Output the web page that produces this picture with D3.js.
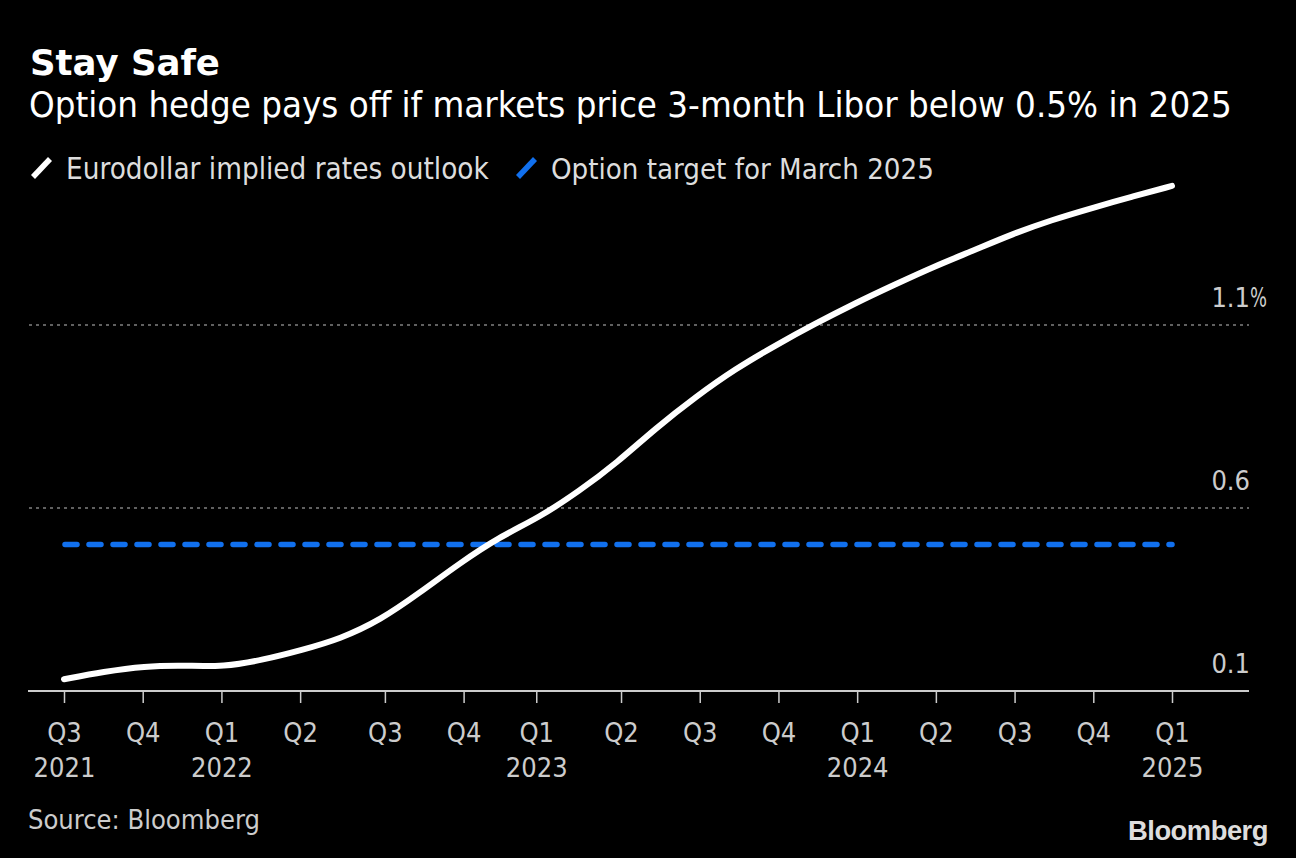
<!DOCTYPE html>
<meta charset="utf-8">
<style>
  body { margin: 0; background: #000; }
  svg { display: block; }
</style>
<script src="https://d3js.org/d3.v7.min.js"></script>
<div id="chart"></div>
<script>

// data
var dates = ["2021-06-30","2021-08-15","2021-10-01","2021-11-15","2022-01-01","2022-02-15",
             "2022-04-01","2022-05-15","2022-07-01","2022-08-15","2022-10-01","2022-11-15",
             "2023-01-01","2023-02-15","2023-04-01","2023-05-15","2023-07-01","2023-08-15",
             "2023-10-01","2023-11-15","2024-01-01","2024-02-15","2024-04-01","2024-05-15",
             "2024-07-01","2024-08-15","2024-10-01","2024-11-15","2025-01-01"];
var rates = [0.132,0.153,0.168,0.170,0.166,0.185,
             0.212,0.242,0.294,0.368,0.450,0.520,
             0.575,0.645,0.725,0.818,0.905,0.980,
             1.045,1.103,1.160,1.210,1.260,1.302,
             1.349,1.387,1.420,1.450,1.480];
var targetRate = 0.5;
var yTicks = [0.1, 0.6, 1.1];
var seriesNames = ["Eurodollar implied rates outlook", "Option target for March 2025"];

// x ticks sit on the weekly points nearest each quarter start
var tickDates = ["2021-06-30","2021-09-29","2021-12-29","2022-03-30","2022-07-06","2022-10-05",
                 "2022-12-28","2023-04-05","2023-07-05","2023-10-04","2024-01-03","2024-04-03",
                 "2024-07-03","2024-10-02","2025-01-01"];
var quarterLabels = ["Q3","Q4","Q1","Q2","Q3","Q4","Q1","Q2","Q3","Q4","Q1","Q2","Q3","Q4","Q1"];
var yearLabels = ["2021","","2022","","","","2023","","","","2024","","","","2025"];

var font = "'DejaVu Sans Condensed', 'DejaVu Sans', sans-serif";
var W = 1296, H = 858;

var svg = d3.select("#chart").append("svg")
  .attr("width", W).attr("height", H)
  .style("background", "#000");

// shrink/grow a text so it spans the width seen in the picture
function fit(t, w) {
  var len = t.node().getComputedTextLength();
  t.attr("font-size", parseFloat(t.attr("font-size")) * w / len);
}

// header
fit(svg.append("text").attr("x", 30).attr("y", 75)
  .attr("font-family", "'DejaVu Sans', sans-serif").attr("font-weight", "bold")
  .attr("font-size", 35).attr("fill", "#fff").text("Stay Safe"), 190);

fit(svg.append("text").attr("x", 29).attr("y", 117)
  .attr("font-family", font).attr("font-size", 33).attr("fill", "#fff")
  .text("Option hedge pays off if markets price 3-month Libor below 0.5% in 2025"), 1203);

// legend
var legendX = [33, 518];
var colors = ["#ffffff", "#1170ee"];
var widths = [423, 383];
seriesNames.forEach(function(name, i) {
  svg.append("line")
    .attr("x1", legendX[i]).attr("y1", 177)
    .attr("x2", legendX[i] + 17).attr("y2", 159)
    .attr("stroke", colors[i]).attr("stroke-width", 5.5);
  fit(svg.append("text").attr("x", legendX[i] + 33).attr("y", 179)
    .attr("font-family", font).attr("font-size", 29).attr("fill", "#ddd")
    .text(name), widths[i]);
});

// scales
var parse = d3.utcParse("%Y-%m-%d");
var data = dates.map(function(d, i) { return {date: parse(d), value: rates[i]}; });

var x = d3.scaleUtc()
  .domain([parse("2021-06-30"), parse("2025-01-01")])
  .range([64, 1172]);
var y = d3.scaleLinear()
  .domain([0.1, 1.1])
  .range([691, 325]);

// grid + y labels
yTicks.forEach(function(v, i) {
  if (i > 0) {
    svg.append("line")
      .attr("x1", 29).attr("x2", 1249)
      .attr("y1", y(v)).attr("y2", y(v))
      .attr("stroke", "#808080").attr("stroke-width", 1.5)
      .attr("stroke-dasharray", "3,4");
  }
  svg.append("text")
    .attr("x", 1250).attr("y", y(v) - 18)
    .attr("text-anchor", "end")
    .attr("font-family", font).attr("font-size", 27).attr("fill", "#ccc")
    .text(d3.format(".1f")(v));
  if (i == yTicks.length - 1) {
    svg.append("text")
      .attr("x", 1250).attr("y", y(v) - 18)
      .attr("font-family", font).attr("font-size", 27).attr("fill", "#ccc")
      .attr("textLength", 17).attr("lengthAdjust", "spacingAndGlyphs")
      .text("%");
  }
});

// x axis
var tickValues = tickDates.map(parse);
var xAxis = svg.append("g")
  .attr("transform", "translate(0,691)")
  .call(d3.axisBottom(x)
    .tickValues(tickValues)
    .tickSize(12)
    .tickSizeOuter(0)
    .tickFormat(function(d, i) { return quarterLabels[i]; }));
xAxis.select(".domain").remove();
xAxis.selectAll(".tick line").attr("stroke", "#ccc").attr("stroke-width", 1.5);
xAxis.selectAll(".tick text")
  .attr("y", 51).attr("dy", null)
  .attr("font-family", font).attr("font-size", 27).attr("fill", "#ccc");
xAxis.selectAll(".tick")
  .append("text")
    .attr("y", 86)
    .attr("text-anchor", "middle")
    .attr("font-family", font).attr("font-size", 27).attr("fill", "#ccc")
    .text(function(d, i) { return yearLabels[i]; });

svg.append("line")
  .attr("x1", 28).attr("x2", 1249)
  .attr("y1", 691).attr("y2", 691)
  .attr("stroke", "#ccc").attr("stroke-width", 2);

// option target
svg.append("line")
  .attr("x1", x(parse("2021-06-30")) + 1).attr("x2", x(parse("2025-01-01")))
  .attr("y1", y(targetRate)).attr("y2", y(targetRate))
  .attr("stroke", colors[1]).attr("stroke-width", 5.5)
  .attr("stroke-linecap", "round")
  .attr("stroke-dasharray", "12,12");

// implied rates
var line = d3.line()
  .x(function(d) { return x(d.date); })
  .y(function(d) { return y(d.value); })
  .curve(d3.curveBasis);

svg.append("path")
  .datum(data)
  .attr("d", line)
  .attr("fill", "none")
  .attr("stroke", "#fff")
  .attr("stroke-width", 6)
  .attr("stroke-linecap", "round");

// footer
fit(svg.append("text").attr("x", 28).attr("y", 829)
  .attr("font-family", font).attr("font-size", 26).attr("fill", "#ccc")
  .text("Source: Bloomberg"), 232);

fit(svg.append("text").attr("x", 1128).attr("y", 840)
  .attr("font-family", "'Liberation Sans', Arial, sans-serif").attr("font-weight", "bold")
  .attr("letter-spacing", -0.5)
  .attr("font-size", 27).attr("fill", "#ddd")
  .text("Bloomberg"), 140);

</script>
